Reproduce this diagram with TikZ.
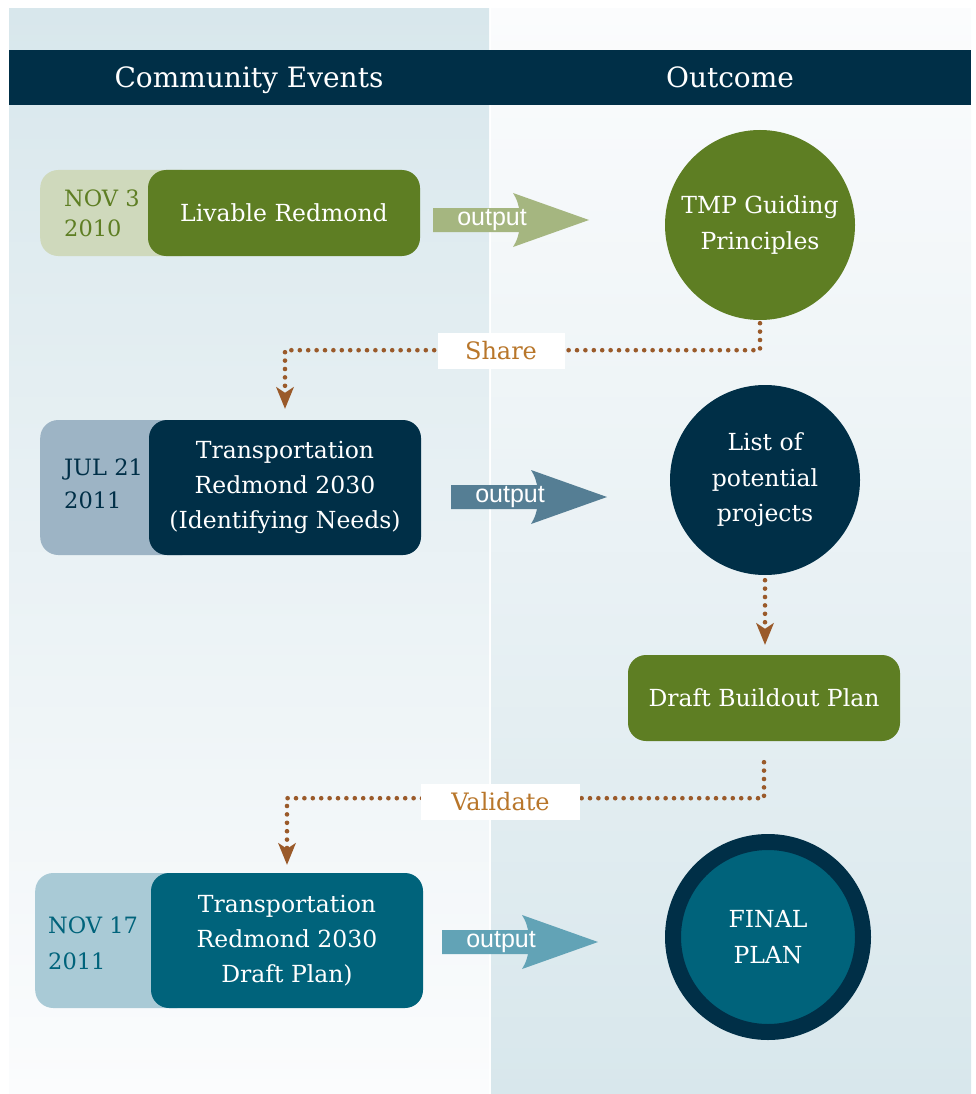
\documentclass[tikz,border=0pt]{standalone}
\usepackage{fontspec}
\setmainfont{DejaVu Serif}
\newfontfamily\outfont{Liberation Sans}
\usetikzlibrary{arrows.meta,calc}
\definecolor{navy}{HTML}{002F47}
\definecolor{olive}{HTML}{5E7E23}
\definecolor{oliveLight}{HTML}{CFD9BC}
\definecolor{arrowA}{HTML}{A5B680}
\definecolor{dateB}{HTML}{9DB4C5}
\definecolor{arrowB}{HTML}{557E94}
\definecolor{tealc}{HTML}{00637B}
\definecolor{dateC}{HTML}{A9CAD6}
\definecolor{arrowC}{HTML}{62A3B6}
\definecolor{dotbrown}{HTML}{9A5A2A}
\definecolor{labbrown}{HTML}{B8762A}
\definecolor{bgblue}{HTML}{D8E7EC}
\definecolor{bgwhite}{HTML}{FBFCFD}
\newcommand{\outarrow}[4]{%
  \fill[#4] (#2,#3-12) -- (#2+86,#3-12) .. controls (#2+84,#3-20) .. (#2+80,#3-27)
    -- (#2+156,#3) -- (#2+80,#3+27) .. controls (#2+84,#3+20) .. (#2+86,#3+12)
    -- (#2,#3+12) -- cycle;
  \node[outtext] (#1) at (#2+59,#3) {output};
}
\begin{document}
\begin{tikzpicture}[x=1pt,y=-1pt,
  mainbox/.style={rounded corners=18pt, minimum width=272pt, inner sep=0pt,
    text=white, align=center, font=\fontsize{23.5}{35}\selectfont},
  datebox/.style={rounded corners=18pt, minimum width=160pt, inner sep=0pt, anchor=west},
  datetext/.style={anchor=west, align=left, inner sep=0pt},
  circ/.style={circle, minimum size=190pt, inner sep=0pt, text=white, align=center,
    font=\fontsize{23.5}{35.5}\selectfont},
  outtext/.style={text=white, inner sep=0pt, font=\outfont\fontsize{25}{25}\selectfont},
  dotconn/.style={draw=dotbrown, line width=4.6pt, dash pattern=on 0pt off 8.4pt, line cap=round,
    -{Stealth[length=22pt,width=18pt,inset=6pt,line width=0pt,round=false]}},
  lab/.style={fill=white, text=labbrown, inner sep=0pt, minimum height=36pt,
    font=\fontsize{24}{24}\selectfont},
  headtext/.style={text=white, anchor=base, font=\fontsize{28}{28}\selectfont}
]
\useasboundingbox (0,0) rectangle (975,1094);
% background columns
\shade[top color=bgblue, bottom color=bgwhite] (9,9) rectangle (489,1094);
\shade[top color=bgwhite, bottom color=bgblue] (491,9) rectangle (971,1094);
% header
\fill[navy] (9,50) rectangle (971,105);
\node[headtext] (hleft) at (249,88) {Community Events};
\node[headtext] (hright) at (730,88) {Outcome};

% row 1
\node[datebox, fill=oliveLight, minimum height=86pt] (d1) at (40,213) {};
\node[datetext, text=olive, font=\fontsize{22.5}{30}\selectfont] (dt1) at (64,213) {NOV 3\\2010};
\node[mainbox, fill=olive, minimum height=86pt] (e1) at (284,213) {Livable Redmond};
\outarrow{out1}{433}{220}{arrowA}
\node[circ, fill=olive] (c1) at (760,225) {TMP Guiding\\Principles};

% row 2
\node[datebox, fill=dateB, minimum height=135pt] (d2) at (40,487.5) {};
\node[datetext, text=navy, font=\fontsize{22.5}{33}\selectfont] (dt2) at (64,484) {JUL 21\\2011};
\node[mainbox, fill=navy, minimum height=135pt] (e2) at (285,487.5) {Transportation\\Redmond 2030\\(Identifying Needs)};
\outarrow{out2}{451}{497}{arrowB}
\node[circ, fill=navy] (c2) at (765,480) {List of\\potential\\projects};

\node[mainbox, fill=olive, minimum height=86pt] (draft) at (764,698) {Draft Buildout Plan};

% row 3
\node[datebox, fill=dateC, minimum height=135pt] (d3) at (35,940.5) {};
\node[datetext, text=tealc, font=\fontsize{22.5}{36}\selectfont] (dt3) at (48,943) {NOV 17\\2011};
\node[mainbox, fill=tealc, minimum height=135pt] (e3) at (287,940.5) {Transportation\\Redmond 2030\\Draft Plan)};
\outarrow{out3}{442}{942}{arrowC}
\node[circ, fill=tealc, draw=navy, line width=16pt] (c3) at (768,937) {FINAL\\PLAN};

% connectors
\draw[dotconn, shorten <=3pt, shorten >=11pt] (c1.south) -- ++(0,30) -| (e2.north);
\draw[dotconn, shorten <=5pt, shorten >=10pt] (c2.south) -- (c2.south |- draft.north);
\draw[dotconn, shorten <=21pt, shorten >=8pt] (draft.south) -- ++(0,57) -| (e3.north);

% labels
\node[lab, minimum width=127pt] (share) at (501,351) {Share};
\node[lab, minimum width=159pt] (validate) at (500.5,802) {Validate};
\end{tikzpicture}
\end{document}
